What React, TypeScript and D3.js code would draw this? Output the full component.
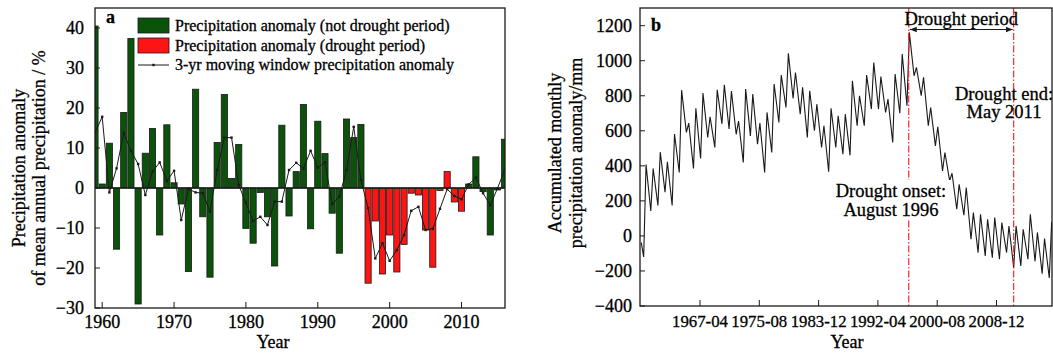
import React from 'react';
import * as d3 from 'd3';

// ---------- Panel a data ----------
const years = d3.range(1959, 2017);
const annualAnomaly = [
  40.5, 1.0, 11.2, -15.3, 18.9, 37.4, -29, 8.7, 14.9, -11.75,
  15.8, 1.3, -4, -20.9, 24.7, -7.2, -22.3, 11.4, 23.4, 2.4,
  10.9, -10.1, -13.8, -1.1, -7.2, -19.5, 15.7, -7, 4.1, 20.9,
  -10.2, 16.7, 8.6, -6.3, -16.3, 17.25, 12.6, 15.9, -23.8, -8.25,
  -21.5, -11.75, -21, -14.1, -1.3, -1.75, -10.5, -19.8, -0.6, 4.1,
  -3.5, -5.8, 1.0, 7.8, -0.9, -11.75, -0.5, 12.2,
];
const movingAverage = [
  13.8, 17.8, -1.1, 4.9, 13.8, 9.3, 6, -1.75, 4.1, 6.4,
  1.75, 4.3, -8, -0.25, -1.1, -1.3, -5.9, 4.5, 12.6, 12.6,
  0.75, -3.7, -8.25, -7.2, -9.25, -3.4, -3.4, 4.5, 6.3, 4.9,
  9.3, 5.1, 6.4, -4, -2.2, 4.5, 15.3, 2, -5, -17.6,
  -13.8, -18.2, -15.5, -11.75, -5.7, -4.7, -10.5, -10.2, -5.2, -0.3,
  -2, -2.8, 0.9, 2.6, -1.3, -4.3, -0.1, 4.5,
];
const droughtFirstYear = 1997;
const droughtLastYear = 2010;
const yTicksA = [-30, -20, -10, 0, 10, 20, 30, 40];
const xTicksA = [1960, 1970, 1980, 1990, 2000, 2010];
const legendLabels = [
  'Precipitation anomaly (not drought period)',
  'Precipitation anomaly (drought period)',
  '3-yr moving window precipitation anomaly',
];

// ---------- Panel b data (monthly index 0 = 1959-01) ----------
const firstMonthValue = -38;
const mayTroughs = [
  -120, 142, 174, 250, 174, 362, 591, 385, 442, 562,
  505, 640, 610, 580, 419, 571, 524, 362, 476, 648,
  733, 785, 695, 562, 600, 505, 366, 505, 467, 460,
  629, 629, 724, 724, 705, 533, 700, 743, 914, 800,
  629, 514, 371, 314, 152, 118, -19, -95, -114, -124,
  -133, -95, -181, -171, -133, -145, -215, -240,
];
const septPeaks = [
  408, 385, 478, 423, 582, 832, 644, 728, 815, 680,
  834, 863, 827, 655, 838, 810, 644, 705, 867, 918,
  1042, 933, 848, 829, 752, 629, 728, 686, 695, 886,
  800, 918, 990, 910, 781, 924, 1038, 1162, 962, 905,
  733, 623, 476, 358, 295, 276, 133, 124, 95, 105,
  76, 57, 57, 38, 124, 20, -15, 80,
];
const yTicksB = [-400, -200, 0, 200, 400, 600, 800, 1000, 1200];
const xTickMonthsB = [99, 199, 299, 399, 499, 599];
const droughtOnsetMonth = 451; // August 1996
const droughtEndMonth = 628; // May 2011

const FONT = '"Liberation Serif", "Times New Roman", serif';
const GREEN = '#0b520b';
const RED = '#ff1414';
const INK = '#1a1a1a';
const TXT = { fontFamily: FONT, fill: '#000', stroke: '#000', strokeWidth: 0.3 } as const;

function monthLabel(m: number) {
  const y = 1959 + Math.floor(m / 12);
  const mo = (m % 12) + 1;
  return `${y}-${String(mo).padStart(2, '0')}`;
}
function fmt(v: number) {
  return v < 0 ? `\u2212${Math.abs(v)}` : `${v}`;
}

function PanelA() {
  const L = 95, R = 505, T = 8, B = 308;
  const x = d3.scaleLinear().domain([1959, 2016.05]).range([L, R]);
  const y = d3.scaleLinear().domain([-30, 45]).range([B, T]);
  const bw = (x(1) - x(0)) * 0.86;
  const line = d3.line<number>().x((_, i) => x(years[i])).y((d) => y(d));
  return (
    <g>
      <defs>
        <clipPath id="clipA"><rect x={L} y={T} width={R - L} height={B - T} /></clipPath>
      </defs>
      <g clipPath="url(#clipA)">
        {years.map((yr, i) => {
          const v = annualAnomaly[i];
          const drought = yr >= droughtFirstYear && yr <= droughtLastYear;
          return (
            <rect key={yr} x={x(yr) - bw / 2} y={Math.min(y(v), y(0))} width={bw}
              height={Math.abs(y(v) - y(0))} fill={drought ? RED : GREEN} stroke={INK} strokeWidth={0.8} />
          );
        })}
        <line x1={L} x2={R} y1={y(0)} y2={y(0)} stroke={INK} strokeWidth={1.3} />
        <path d={line(movingAverage) || ''} fill="none" stroke={INK} strokeWidth={1} />
        {movingAverage.map((v, i) => (
          <rect key={i} x={x(years[i]) - 1.2} y={y(v) - 1.2} width={2.4} height={2.4} fill={INK} />
        ))}
      </g>
      <rect x={L} y={T} width={R - L} height={B - T} fill="none" stroke={INK} strokeWidth={1.3} />
      {yTicksA.map((t) => (
        <g key={t}>
          <line x1={L} x2={L + 5} y1={y(t)} y2={y(t)} stroke={INK} strokeWidth={1} />
          <text x={L - 11} y={y(t)} dy="0.35em" textAnchor="end" fontSize={18} {...TXT}>{fmt(t)}</text>
        </g>
      ))}
      {xTicksA.map((t) => (
        <g key={t}>
          <line x1={x(t)} x2={x(t)} y1={B} y2={B - 6} stroke={INK} strokeWidth={1} />
          <text x={x(t)} y={328} textAnchor="middle" fontSize={18} {...TXT}>{t}</text>
        </g>
      ))}
      <text x={273} y={348} textAnchor="middle" fontSize={18} {...TXT}>Year</text>
      <text transform="translate(25,168) rotate(-90)" textAnchor="middle" fontSize={18} {...TXT}>Precipitation anomaly</text>
      <text transform="translate(45,168) rotate(-90)" textAnchor="middle" fontSize={18} {...TXT}>of mean annual precipitation / %</text>
      <text x={106} y={23} fontSize={18} fontWeight="bold" {...TXT}>a</text>
      {/* legend */}
      <rect x={138} y={18} width={31} height={15} fill={GREEN} stroke={INK} strokeWidth={0.8} />
      <rect x={138} y={38} width={31} height={15} fill={RED} stroke={INK} strokeWidth={0.8} />
      <line x1={138} x2={169} y1={65} y2={65} stroke={INK} strokeWidth={1} />
      <rect x={152.3} y={63.8} width={2.4} height={2.4} fill={INK} />
      {legendLabels.map((s, i) => (
        <text key={s} x={175} y={31 + i * 19.5} fontSize={16} {...TXT}>{s}</text>
      ))}
    </g>
  );
}

function PanelB() {
  const L = 640, R = 1052, T = 8, B = 306;
  const x = d3.scaleLinear().domain([-2.2, 692.6]).range([L, R]);
  const y = d3.scaleLinear().domain([-400, 1301]).range([B, T]);
  const pts: [number, number][] = [[0, firstMonthValue]];
  mayTroughs.forEach((v, k) => {
    pts.push([12 * k + 4, v]);
    pts.push([12 * k + 8, septPeaks[k]]);
  });
  const line = d3.line<[number, number]>().x((d) => x(d[0])).y((d) => y(d[1]));
  const xOn = x(droughtOnsetMonth), xEnd = x(droughtEndMonth);
  return (
    <g>
      <defs>
        <clipPath id="clipB"><rect x={L} y={T} width={R - L} height={B - T} /></clipPath>
        <marker id="arr" viewBox="0 0 10 10" refX="10" refY="5" markerWidth="7" markerHeight="7" orient="auto-start-reverse">
          <path d="M0,1 L10,5 L0,9 z" fill={INK} />
        </marker>
      </defs>
      <g clipPath="url(#clipB)">
        <path d={line(pts) || ''} fill="none" stroke={INK} strokeWidth={1.1} />
        {[xOn, xEnd].map((xx, i) => (
          <line key={i} x1={xx} x2={xx} y1={T} y2={B} stroke={RED} strokeWidth={1.1} strokeDasharray="7,2,1.5,2" />
        ))}
      </g>
      <rect x={L} y={T} width={R - L} height={B - T} fill="none" stroke={INK} strokeWidth={1.3} />
      {yTicksB.map((t) => (
        <g key={t}>
          <line x1={L} x2={L + 5} y1={y(t)} y2={y(t)} stroke={INK} strokeWidth={1} />
          <text x={L - 8} y={y(t)} dy="0.35em" textAnchor="end" fontSize={18} {...TXT}>{fmt(t)}</text>
        </g>
      ))}
      {xTickMonthsB.map((m) => (
        <g key={m}>
          <line x1={x(m)} x2={x(m)} y1={B} y2={B - 6} stroke={INK} strokeWidth={1} />
          <text x={x(m)} y={327} textAnchor="middle" fontSize={16.8} {...TXT}>{monthLabel(m)}</text>
        </g>
      ))}
      <text x={847} y={348} textAnchor="middle" fontSize={18} {...TXT}>Year</text>
      <text transform="translate(561,153) rotate(-90)" textAnchor="middle" fontSize={18} {...TXT}>Accumulated monthly</text>
      <text transform="translate(582,153) rotate(-90)" textAnchor="middle" fontSize={18} {...TXT}>precipitation anomaly/mm</text>
      <text x={651} y={31} fontSize={18} fontWeight="bold" {...TXT}>b</text>
      <text x={(xOn + xEnd) / 2} y={25} textAnchor="middle" fontSize={18.5} {...TXT}>Drought period</text>
      <line x1={xOn + 1} x2={xEnd - 1} y1={29.5} y2={29.5} stroke={INK} strokeWidth={1} markerStart="url(#arr)" markerEnd="url(#arr)" />
      <text x={1004} y={100} textAnchor="middle" fontSize={18.5} {...TXT}>Drought end:</text>
      <text x={1004} y={118} textAnchor="middle" fontSize={18.5} {...TXT}>May 2011</text>
      <rect x={833} y={180} width={118} height={40} fill="#fff" />
      <text x={891} y={197} textAnchor="middle" fontSize={18.5} {...TXT}>Drought onset:</text>
      <text x={891} y={216} textAnchor="middle" fontSize={18.5} {...TXT}>August 1996</text>
    </g>
  );
}

export default function App() {
  return (
    <svg width={1053} height={354} viewBox="0 0 1053 354"
      style={{ position: 'fixed', left: 0, top: 0, background: '#fff' }} fontFamily={FONT}>
      <rect x={0} y={0} width={1053} height={354} fill="#fff" />
      <PanelA />
      <PanelB />
    </svg>
  );
}
